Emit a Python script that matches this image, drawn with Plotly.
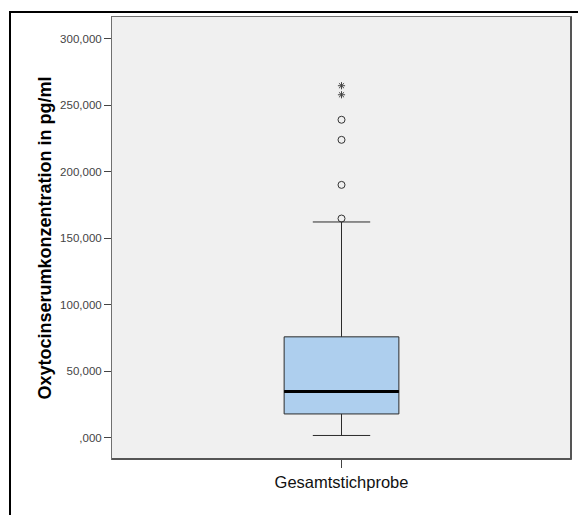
import plotly.graph_objects as go

# ---- data ----
category_labels = ["Gesamtstichprobe"]
category_pos = [0]
q1_vals = [17900]
median_vals = [34700]
q3_vals = [75900]
lower_whisker = [1700]
upper_whisker = [162300]
outliers_circle = [164900, 190200, 224100, 239200]
outliers_extreme = [258000, 264800]
y_tickvals = [0, 50000, 100000, 150000, 200000, 250000, 300000]
y_ticktext = [",000", "50,000", "100,000", "150,000", "200,000", "250,000", "300,000"]

BOX_WIDTH = 0.25
FONT = "Liberation Sans"

fig = go.Figure()

fig.add_trace(go.Box(
    x=category_pos,
    q1=q1_vals, median=median_vals, q3=q3_vals,
    lowerfence=lower_whisker, upperfence=upper_whisker,
    width=BOX_WIDTH, whiskerwidth=0.5,
    fillcolor="#AECFEE",
    line=dict(color="#2b2b2b", width=1),
    boxpoints=False, showlegend=False, hoverinfo="skip",
))

# thick median line
half = BOX_WIDTH / 2
fig.add_trace(go.Scatter(
    x=[category_pos[0] - half, category_pos[0] + half],
    y=[median_vals[0], median_vals[0]],
    mode="lines", line=dict(color="black", width=3),
    showlegend=False, hoverinfo="skip",
))

fig.add_trace(go.Scatter(
    x=[category_pos[0]] * len(outliers_circle), y=outliers_circle,
    mode="markers",
    marker=dict(symbol="circle-open", size=7, color="#333333", line=dict(width=1)),
    showlegend=False, hoverinfo="skip",
))
fig.add_trace(go.Scatter(
    x=[category_pos[0]] * len(outliers_extreme), y=outliers_extreme,
    mode="markers",
    marker=dict(symbol="asterisk-open", size=6, color="#444444", line=dict(width=1, color="#444444")),
    showlegend=False, hoverinfo="skip",
))

# outer black frame (partial, top + left) and plot-area shadow
L, R, T, B = 112, 8, 17, 56
W, H = 579, 515
pw, ph = W - L - R, H - T - B
def px(xp):
    return (xp - L) / pw
def py(yp):
    return 1 - (yp - T) / ph

shapes = [
    dict(type="line", xref="paper", yref="paper", x0=px(10), x1=px(10), y0=py(11), y1=py(515),
         line=dict(color="black", width=2)),
    dict(type="line", xref="paper", yref="paper", x0=px(9), x1=px(578), y0=py(12), y1=py(12),
         line=dict(color="black", width=2)),
    dict(type="line", xref="paper", yref="paper", x0=1, x1=1, y0=0, y1=1,
         line=dict(color="#555555", width=2)),
    dict(type="line", xref="paper", yref="paper", x0=0, x1=1, y0=0, y1=0,
         line=dict(color="#555555", width=2)),
]

fig.update_layout(
    width=W, height=H,
    margin=dict(l=L, r=R, t=T, b=B, pad=0),
    paper_bgcolor="white",
    plot_bgcolor="#F0F0F0",
    font=dict(family=FONT, color="#222222"),
    shapes=shapes,
    xaxis=dict(
        range=[-0.5, 0.5],
        tickvals=category_pos, ticktext=category_labels,
        ticks="outside", ticklen=8, tickcolor="#444444", tickwidth=1,
        tickfont=dict(size=16.5, color="#111111", family=FONT),
        showgrid=False, zeroline=False,
        showline=True, mirror=True, linecolor="#707070", linewidth=1,
    ),
    yaxis=dict(
        range=[-16000, 316500],
        tickvals=y_tickvals, ticktext=y_ticktext,
        ticks="outside", ticklen=7, tickcolor="#444444", tickwidth=1,
        tickfont=dict(size=11.5, color="#444444", family=FONT),
        showgrid=False, zeroline=False,
        showline=True, mirror=True, linecolor="#707070", linewidth=1,
        title=dict(text="Oxytocinserumkonzentration in pg/ml",
                   font=dict(size=18, color="#000000", family=FONT, weight="bold"),
                   standoff=3),
    ),
)

fig.write_html("out.html")
